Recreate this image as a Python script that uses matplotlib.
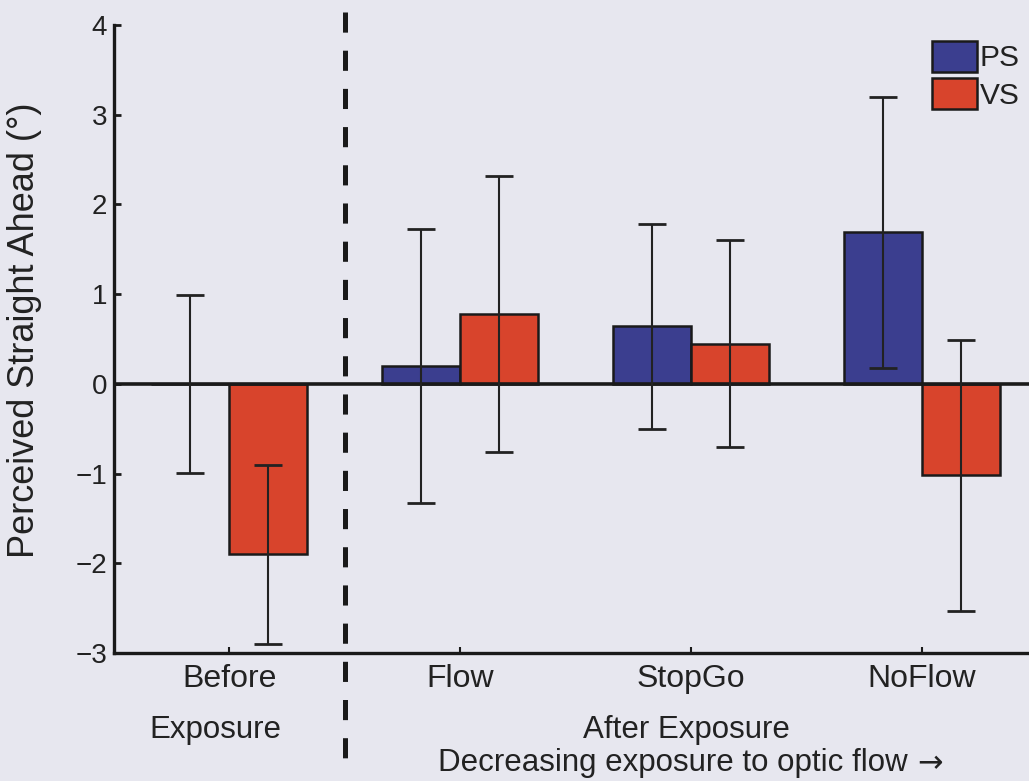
import matplotlib
matplotlib.use("Agg")
import matplotlib.pyplot as plt
import numpy as np

# ---- data ----
categories = ["Before", "Flow", "StopGo", "NoFlow"]
series_names = ["PS", "VS"]
ps_mean = [0.0, 0.20, 0.64, 1.69]
ps_err = [0.99, 1.53, 1.14, 1.51]
vs_mean = [-1.90, 0.78, 0.45, -1.02]
vs_err = [1.00, 1.54, 1.15, 1.51]
yticks = [-3, -2, -1, 0, 1, 2, 3, 4]

plt.rcParams['font.family'] = ['Liberation Sans', 'DejaVu Sans']
plt.rcParams['lines.scale_dashes'] = False

BG = '#e7e7ef'
TXT = '#222222'
PS_C = '#3b3e8f'
VS_C = '#d8442c'

fig = plt.figure(figsize=(10.29, 7.81), dpi=100, facecolor=BG)
ax = fig.add_axes([0.1108, 0.1639, 0.897, 0.804])
ax.set_facecolor(BG)

x = np.arange(1, len(categories) + 1)
w = 0.338

ax.bar(x - w / 2, ps_mean, width=w, color=PS_C, edgecolor='#1a1a1a',
       linewidth=1.8, label=series_names[0], zorder=2)
ax.bar(x + w / 2, vs_mean, width=w, color=VS_C, edgecolor='#1a1a1a',
       linewidth=1.8, label=series_names[1], zorder=2)
ax.errorbar(x - w / 2, ps_mean, yerr=ps_err, fmt='none', ecolor='#222222',
            elinewidth=1.5, capsize=10, capthick=2, zorder=4)
ax.errorbar(x + w / 2, vs_mean, yerr=vs_err, fmt='none', ecolor='#222222',
            elinewidth=1.5, capsize=10, capthick=2, zorder=4)

ax.axhline(0, color='#1a1a1a', linewidth=2.6, zorder=3)

ax.set_xlim(0.5, 4.5)
ax.set_ylim(-3, 4)
ax.set_yticks(yticks)
ax.set_xticks(x)
ax.set_xticklabels(categories)

for s in ['top', 'right']:
    ax.spines[s].set_visible(False)
for s in ['left', 'bottom']:
    ax.spines[s].set_linewidth(2.4)
    ax.spines[s].set_color('#1a1a1a')

ax.tick_params(axis='y', direction='in', length=5, width=2, colors='#1a1a1a',
               labelsize=20, labelcolor=TXT, pad=5)
ax.tick_params(axis='x', direction='in', length=4, width=1.5, colors='#1a1a1a',
               labelsize=23, labelcolor=TXT, pad=8)

ax.set_ylabel('Perceived Straight Ahead (°)', fontsize=26, color=TXT)
ax.yaxis.set_label_coords(-0.078, 0.514)

# dashed separator
ax.plot([1.5, 1.5], [4.15, -4.19], color='#1a1a1a', linewidth=3.6,
        dashes=(14.5, 13), clip_on=False, zorder=5, solid_capstyle='butt',
        dash_capstyle='butt')

trans = ax.get_xaxis_transform()
ax.text(0.94, -0.135, 'Exposure', transform=trans, ha='center', va='baseline',
        fontsize=22.5, color=TXT)
ax.text(2.98, -0.135, 'After Exposure', transform=trans, ha='center',
        va='baseline', fontsize=22.5, color=TXT)
dec = ax.text(2.92, -0.188, 'Decreasing exposure to optic flow', transform=trans,
              ha='center', va='baseline', fontsize=22.5, color=TXT)
ax.annotate('→', xy=(1, 0), xycoords=dec, xytext=(7, 0),
            textcoords='offset points', ha='left', va='bottom',
            fontsize=22, color=TXT, family='DejaVu Sans')

leg = ax.legend(loc='upper left', bbox_to_anchor=(932 / 1029, 1 - 41 / 781),
                bbox_transform=fig.transFigure, frameon=False, fontsize=21.5,
                handlelength=1.5, handleheight=1.2, handletextpad=0.1,
                labelspacing=0.2, borderpad=0, borderaxespad=0)
for t in leg.get_texts():
    t.set_color(TXT)

fig.savefig('out.png', dpi=100, facecolor=BG)
